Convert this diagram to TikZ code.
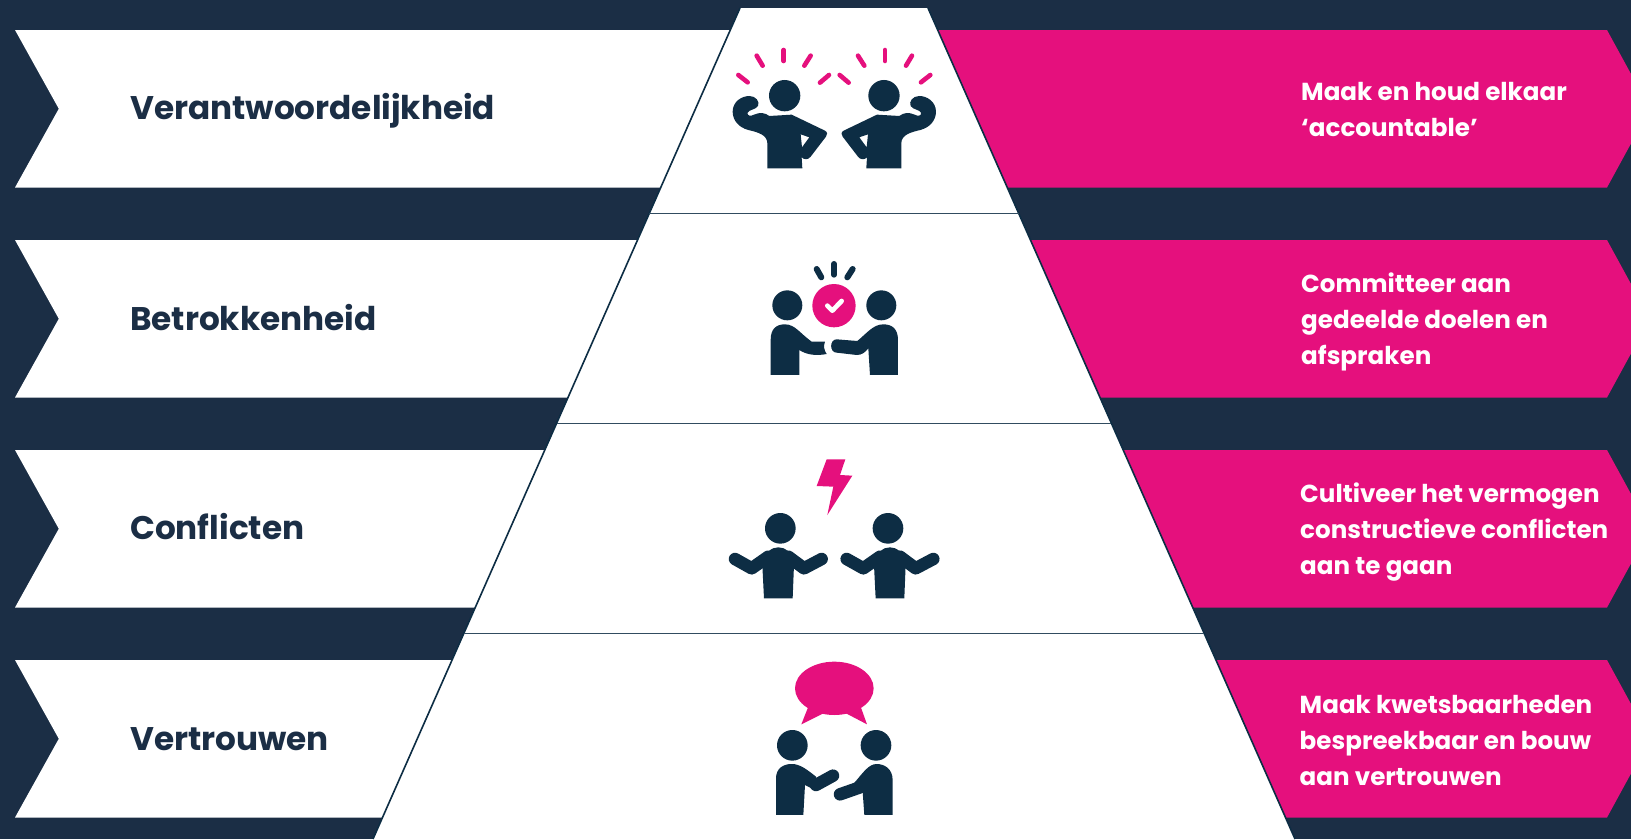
\documentclass[tikz,border=0pt]{standalone}
\usepackage{fontspec}
\setmainfont{Poppins}
\definecolor{navy}{HTML}{1B2E45}
\definecolor{iconblue}{HTML}{0D2D44}
\definecolor{hotpink}{HTML}{E5107D}
\tikzset{
        lefttext/.style={anchor=base west, inner sep=0pt, text=navy, font=\fontsize{32.7}{36}\selectfont\bfseries},
        righttext/.style={anchor=base west, inner sep=0pt, text=white, align=left, font=\fontsize{24.6}{36}\selectfont\bfseries},
        iconfill/.style={fill=iconblue, draw=none},
        armline/.style={draw=iconblue, line width=12.5pt, line cap=round, line join=round},
        flexmark/.style={draw=hotpink, line width=4.6pt, line cap=round},
        sparkmark/.style={draw=iconblue, line width=6pt, line cap=round},
        pics/flexfigure/.style={code={
            \fill[iconfill] (314,287) circle (47);
            \fill[iconfill, even odd rule] (262,505) -- (262,430) .. controls (262,405) and (235,397) .. (205,390)
              .. controls (175,382) and (158,360) .. (158,335) .. controls (158,305) and (185,288) .. (208,288)
              .. controls (228,288) and (240,305) .. (234,318) .. controls (226,330) and (208,328) .. (203,338)
              .. controls (200,347) and (212,350) .. (222,344) .. controls (240,336) and (255,338) .. (268,348)
              -- (335,344) -- (435,392) .. controls (443,397) and (443,403) .. (438,410) -- (392,470)
              .. controls (385,480) and (372,480) .. (365,472) -- (367,505) -- cycle
              (362,403) -- (388,412) -- (366,442) -- cycle;
            \draw[flexmark] (175,225) -- (203,247);
            \draw[flexmark] (230,167) -- (248,197);
            \draw[flexmark] (311,150) -- (311,183);
            \draw[flexmark] (392,167) -- (373,197);
            \draw[flexmark] (447,225) -- (420,248);
        }},
        pics/shrugfigure/.style={code={
            \fill[iconfill] (192,475) -- (187,375) .. controls (195,335) and (215,322) .. (235,322)
              .. controls (255,322) and (275,335) .. (282,375) -- (278,475) -- cycle;
            \draw[armline] (105,357) -- (155,385) -- (205,350);
            \draw[armline] (365,357) -- (312,385) -- (265,350);
        }}
}

\begin{document}
\begin{tikzpicture}[x=1pt, y=-1pt]
  \useasboundingbox (0,0) rectangle (1631,839);
  \clip (0,0) rectangle (1631,839);
  \fill[navy] (0,0) rectangle (1631,839);

  % banners
  \foreach \ytop in {30,240,450,660}{
    \fill[white] (15,\ytop) -- (1000,\ytop) -- (1000,\ytop+157.5) -- (15,\ytop+157.5) -- (58.8,\ytop+78.75) -- cycle;
    \fill[hotpink] (800,\ytop) -- (1607,\ytop) -- (1650,\ytop+78.75) -- (1607,\ytop+157.5) -- (800,\ytop+157.5) -- cycle;
  }

  % pyramid
  \fill[white] (740,8) -- (928,8) -- (1295,839) -- (373,839) -- cycle;
  \draw[iconblue, line width=1.6pt] (740,8) -- (373,839);
  \draw[iconblue, line width=1.6pt] (928,8) -- (1295,839);
  \foreach \ysep in {213.5,423.5,633.5}
    \draw[iconblue!85!white, line width=1.8pt] ({740-0.4416*(\ysep-8)},\ysep) -- ({928+0.4416*(\ysep-8)},\ysep);

  % left labels
  \node[lefttext] (verantw) at (130,119) {Verantwoordelijkheid};
  \node[lefttext] (betrok) at (130,330) {Betrokkenheid};
  \node[lefttext] (conflict) at (130,539) {Conflicten};
  \node[lefttext] (vertrouw) at (130,750) {Vertrouwen};

  % right labels
  \node[righttext] (accountable) at (1301,136) {Maak en houd elkaar\\‘accountable’};
  \node[righttext] (committeer) at (1301,364) {Committeer aan\\gedeelde doelen en\\afspraken};
  \node[righttext] (cultiveer) at (1300,574) {Cultiveer het vermogen\\constructieve conflicten\\aan te gaan};
  \node[righttext] (kwetsbaar) at (1299.5,785) {Maak kwetsbaarheden\\bespreekbaar en bouw\\aan vertrouwen};

  % icon top
  \begin{scope}[shift={(680,0)}, x=0.3333pt, y=-0.3333pt]
    \pic {flexfigure};
    \pic[xscale=-1, shift={(-926,0)}] {flexfigure};
  \end{scope}

  % icon handshake
  \begin{scope}[shift={(700,240)}, x=0.3333pt, y=-0.3333pt]
    \fill[iconfill] (262,196) circle (45);
    \fill[iconfill] (544,196) circle (45);
    \fill[hotpink] (402,197) circle (65);
    \draw[white, line width=4.7pt, line cap=round, line join=round] (382,197) -- (397,212) -- (425,183);
    \draw[sparkmark] (350,87) -- (364,112);
    \draw[sparkmark] (402,72) -- (402,104);
    \draw[sparkmark] (458,87) -- (442,112);
    \fill[iconfill] (212,405) -- (212,300) .. controls (212,265) and (230,253) .. (255,253)
      .. controls (285,253) and (300,280) .. (335,305) -- (375,305) .. controls (370,318) and (372,330) .. (380,342)
      .. controls (350,348) and (320,345) .. (298,330) -- (298,405) -- cycle;
    \fill[iconfill] (594,405) -- (594,300) .. controls (594,265) and (575,253) .. (550,253)
      .. controls (520,253) and (500,280) .. (472,303) -- (410,298) .. controls (388,298) and (388,338) .. (410,338)
      -- (470,345) .. controls (485,345) and (495,338) .. (505,325) -- (510,405) -- cycle;
  \end{scope}

  % icon bolt
  \begin{scope}[shift={(700,440)}, x=0.3333pt, y=-0.3333pt]
    \fill[hotpink] (380,58) -- (436,58) -- (420,105) -- (457,107) -- (382,225) -- (400,140) -- (350,138) -- cycle;
    \fill[iconfill] (241,265) circle (46);
    \fill[iconfill] (564,265) circle (46);
    \pic {shrugfigure};
    \pic[shift={(335,0)}] {shrugfigure};
  \end{scope}

  % icon speech
  \begin{scope}[shift={(740,650)}, x=0.3333pt, y=-0.3333pt]
    \fill[hotpink] (283,115) ellipse (118 and 80);
    \fill[hotpink] (205,170) -- (184,223) -- (250,190) -- cycle;
    \fill[hotpink] (362,170) -- (381,223) -- (318,190) -- cycle;
    \fill[iconfill] (157,286) circle (46);
    \fill[iconfill] (408,286) circle (46);
    \fill[iconfill] (108,495) -- (108,385) .. controls (108,355) and (130,342) .. (155,342)
      .. controls (180,342) and (200,358) .. (228,380) -- (228,422) -- (195,405) -- (190,495) -- cycle;
    \draw[armline] (228,405) -- (279,377);
    \fill[iconfill] (458,495) -- (458,390) .. controls (458,358) and (435,342) .. (410,342)
      .. controls (385,342) and (368,370) .. (340,402) -- (345,425) -- (368,425) -- (373,495) -- cycle;
    \draw[armline] (300,433) -- (360,412);
  \end{scope}
\end{tikzpicture}
\end{document}
